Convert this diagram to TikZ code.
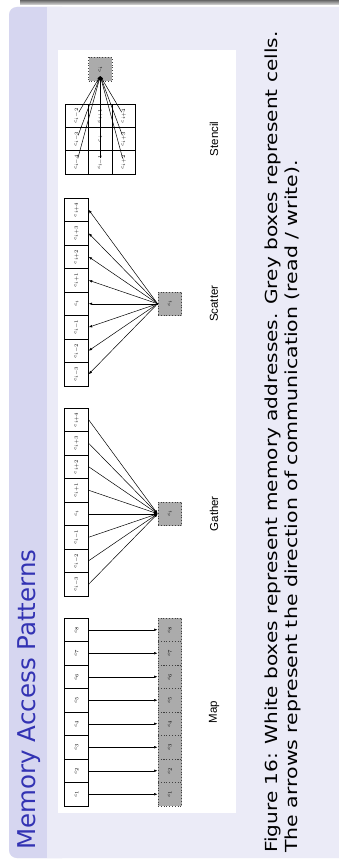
\documentclass[tikz,border=0pt]{standalone}
\usepackage{fontspec}
\usepackage{graphicx}
\usetikzlibrary{arrows.meta}
\newfontfamily\djv{DejaVu Sans}
\newfontfamily\lib{Liberation Sans}
\definecolor{titlebg}{HTML}{D6D6F0}
\definecolor{bodybg}{HTML}{EBEBF7}
\definecolor{struct}{HTML}{3333B3}
\begin{document}
\begin{tikzpicture}[x=1pt,y=-1pt,
  wbox/.style={draw, fill=white, line width=0.8pt, minimum size=23.5pt, inner sep=0pt, font=\fontsize{5}{6}\selectfont},
  gbox/.style={draw=black!75, dotted, fill=black!33, line width=0.8pt, minimum size=23.5pt, inner sep=0pt, font=\fontsize{5}{6}\selectfont},
  arr/.style={-{Latex[length=3.5pt,width=2.6pt]}, line width=0.5pt},
  lab/.style={rotate=90, font=\lib\fontsize{11.5}{13}\selectfont},
  captext/.style={rotate=90, anchor=base west, inner sep=0pt, font=\djv\fontsize{16.6}{20}\selectfont}]
\useasboundingbox (0,0) rectangle (339,867);
\clip (0,0) rectangle (339,867);
\fill[white] (0,0) rectangle (339,867);
\shade[top color=black!60, bottom color=black!12] (20,0) rectangle (339,5);
\fill[bodybg, rounded corners=8pt] (9,7) rectangle (380,858);
\fill[titlebg, rounded corners=8pt] (9,7) rectangle (70,858);
\fill[bodybg] (47,7) rectangle (339,858);
\node[rotate=90, anchor=base west, text=struct, font=\djv\fontsize{24.5}{29}\selectfont] (title) at (35,853) {Memory Access Patterns};
\node[captext] (cap1) at (277,853) {\scalebox{1.21}[1]{Figure 16: White boxes represent memory addresses. Grey boxes represent cells.}};
\node[captext] (cap2) at (297.5,853) {\scalebox{1.235}[1]{The arrows represent the direction of communication (read / write).}};
% figure area
\fill[white] (58,50) rectangle (236,813);
% Map
\foreach \k in {1,...,8}{
  \pgfmathsetmacro\yy{806-23.5*(\k-0.5)}
  \node[wbox] (mw\k) at (76.5,\yy) {\rotatebox{90}{$c_{\k}$}};
  \node[gbox] (mg\k) at (169.75,\yy) {\rotatebox{90}{$c_{\k}$}};
  \draw[arr] (mw\k) -- (mg\k);
}
\node[lab] (lmap) at (214,712) {Map};
% Gather
\node[gbox] (gg) at (169.75,513.75) {\rotatebox{90}{$c_{i}$}};
\foreach \k/\s in {1/i-3,2/i-2,3/i-1,4/i,5/i+1,6/i+2,7/i+3,8/i+4}{
  \pgfmathsetmacro\yy{596-23.5*(\k-0.5)}
  \node[wbox] (gw\k) at (76.5,\yy) {\rotatebox{90}{$c_{\s}$}};
  \draw[arr] (gw\k.east) -- (gg.west);
}
\node[lab] (lgather) at (214,513.75) {Gather};
% Scatter
\node[gbox] (sg) at (169.75,303.75) {\rotatebox{90}{$c_{i}$}};
\foreach \k/\s in {1/i-3,2/i-2,3/i-1,4/i,5/i+1,6/i+2,7/i+3,8/i+4}{
  \pgfmathsetmacro\yy{386-23.5*(\k-0.5)}
  \node[wbox] (sw\k) at (76.5,\yy) {\rotatebox{90}{$c_{\s}$}};
  \draw[arr] (sg.west) -- (sw\k.east);
}
\node[lab] (lscatter) at (214,303.75) {Scatter};
% Stencil
\node[gbox] (tg) at (100.25,69.25) {\rotatebox{90}{$c_{i}$}};
\coordinate (ttip) at (100.25,76);
\foreach \k/\x/\y/\s in {1/76.75/162.35/i-4, 2/76.75/139/i-3, 3/76.75/115.65/i-2,
                        4/100.25/162.35/i-1, 5/100.25/139/i, 6/100.25/115.65/i+1,
                        7/123.75/162.35/i+2, 8/123.75/139/i+3, 9/123.75/115.65/i+4}{
  \node[wbox] (tw\k) at (\x,\y) {\rotatebox{90}{$c_{\s}$}};
}
\foreach \k in {1,...,9}{
  \draw[arr, shorten <=4pt] (tw\k.center) -- (ttip);
}
\node[lab] (lstencil) at (214,139) {Stencil};
\end{tikzpicture}
\end{document}
